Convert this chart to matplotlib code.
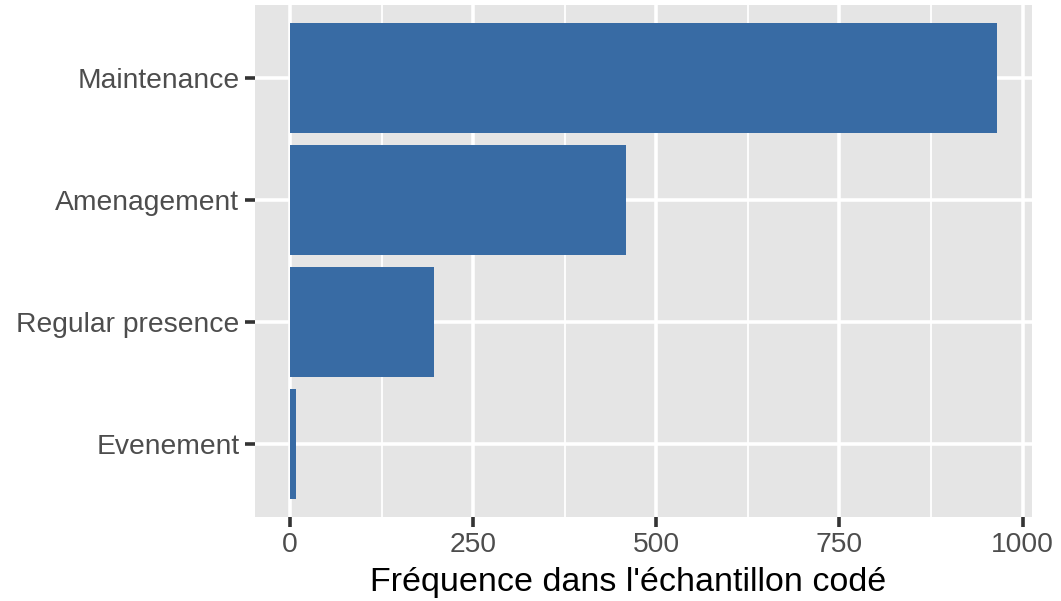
import matplotlib
matplotlib.use('Agg')
import matplotlib.pyplot as plt

categories = ['Evenement', 'Regular presence', 'Amenagement', 'Maintenance']
counts = [8, 197, 459, 965]
xticks = [0, 250, 500, 750, 1000]
minor_xticks = [125, 375, 625, 875]

plt.rcParams['font.family'] = ['Liberation Sans', 'DejaVu Sans']

fig = plt.figure(figsize=(10.61, 6.01), dpi=100)
ax = fig.add_axes([0.240, 0.140, 0.733, 0.852])
ax.set_facecolor('#E5E5E5')

pos = list(range(1, len(categories) + 1))
ax.barh(pos, counts, height=0.9, color='#386BA4', zorder=3)

ax.set_xlim(-0.05 * max(counts), max(counts) * 1.05)
ax.set_ylim(0.4, len(categories) + 0.6)
ax.set_xticks(xticks)
ax.set_xticklabels([str(t) for t in xticks])
ax.set_xticks(minor_xticks, minor=True)
ax.set_yticks(pos)
ax.set_yticklabels(categories)

ax.grid(which='major', color='white', linewidth=2.6, zorder=1)
ax.grid(which='minor', axis='x', color='white', linewidth=1.3, zorder=1)
ax.set_axisbelow(True)
for s in ax.spines.values():
    s.set_visible(False)

ax.tick_params(which='major', length=7, width=2.6, color='#333333',
               labelsize=20.3, labelcolor='#4D4D4D', pad=4)
ax.tick_params(which='minor', length=0)

ax.set_xlabel("Fréquence dans l'échantillon codé", fontsize=24.5, color='black')
ax.xaxis.set_label_coords(0.48, -0.098)

fig.savefig('out.png', dpi=100)
